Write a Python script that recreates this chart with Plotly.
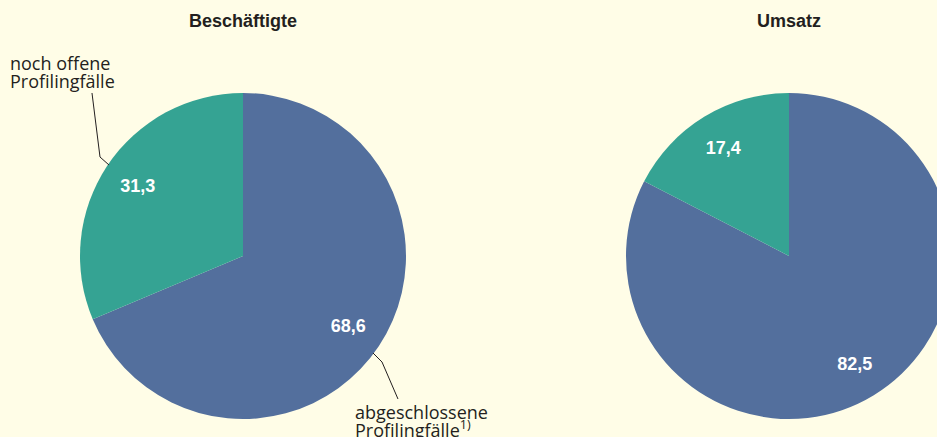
import plotly.graph_objects as go

# ---- data ----
categories = ["abgeschlossene Profilingfälle", "noch offene Profilingfälle"]
beschaeftigte = [68.6, 31.3]
umsatz = [82.5, 17.4]
titles = ["Beschäftigte", "Umsatz"]

# ---- styling ----
W, H = 960, 437
BG = "#FFFDE7"
COLORS = ["#536F9D", "#35A393"]
TXT = "#231F20"
REG = "Open Sans"
BOLD = "Liberation Sans"


def px(x):
    return x / W


def py(y):
    return (H - y) / H


fig = go.Figure()

pie_domains = [
    dict(x=[px(80), px(406)], y=[py(419), py(93)]),
    dict(x=[px(626), px(952)], y=[py(419), py(93)]),
]

for vals, dom in zip([beschaeftigte, umsatz], pie_domains):
    # filled slices
    fig.add_trace(go.Pie(
        labels=categories,
        values=vals,
        domain=dom,
        sort=False,
        direction="clockwise",
        rotation=0,
        marker=dict(colors=COLORS, line=dict(width=0)),
        textinfo="none",
        hoverinfo="label+value",
        showlegend=False,
    ))
    # transparent ring carrying the value labels (places them toward the rim)
    fig.add_trace(go.Pie(
        labels=categories,
        values=vals,
        domain=dom,
        hole=0.55,
        sort=False,
        direction="clockwise",
        rotation=0,
        marker=dict(colors=["rgba(0,0,0,0)", "rgba(0,0,0,0)"], line=dict(width=0)),
        texttemplate="%{value:.1f}",
        textposition="inside",
        insidetextorientation="horizontal",
        insidetextfont=dict(family=BOLD, size=18, color="white", weight="bold"),
        hoverinfo="skip",
        showlegend=False,
    ))

annotations = []
# titles
for t, cx in zip(titles, [243, 789]):
    annotations.append(dict(text=f"<b>{t}</b>", x=px(cx), y=py(21), xref="paper", yref="paper",
                            xanchor="center", yanchor="middle", showarrow=False,
                            font=dict(family=BOLD, size=18, color=TXT)))
# category labels
for txt, x, y in [("noch offene", 8, 63), ("Profilingfälle", 8, 81),
                  ("abgeschlossene", 353, 412), ("Profilingfälle<sup>1)</sup>", 353, 429)]:
    annotations.append(dict(text=txt, x=px(x), y=py(y), xref="paper", yref="paper",
                            xanchor="left", yanchor="middle", showarrow=False,
                            font=dict(family=REG, size=18, color=TXT)))


def path(points):
    return "M " + " L ".join(f"{px(a):.5f},{py(b):.5f}" for a, b in points)


shapes = [
    dict(type="path", xref="paper", yref="paper", path=path([(92, 93), (100, 157), (109, 165)]),
         line=dict(color=TXT, width=1)),
    dict(type="path", xref="paper", yref="paper", path=path([(373, 353), (382, 362), (398, 399)]),
         line=dict(color=TXT, width=1)),
]

fig.update_layout(
    width=W, height=H,
    margin=dict(l=0, r=0, t=0, b=0),
    paper_bgcolor=BG, plot_bgcolor=BG,
    separators=",.",
    annotations=annotations,
    shapes=shapes,
)

fig.write_html(
    "out.html",
    config={"displayModeBar": False},
    post_script="document.body.style.margin='0';document.body.style.overflow='hidden';"
                "document.documentElement.style.overflow='hidden';document.body.style.background='" + BG + "';",
)
